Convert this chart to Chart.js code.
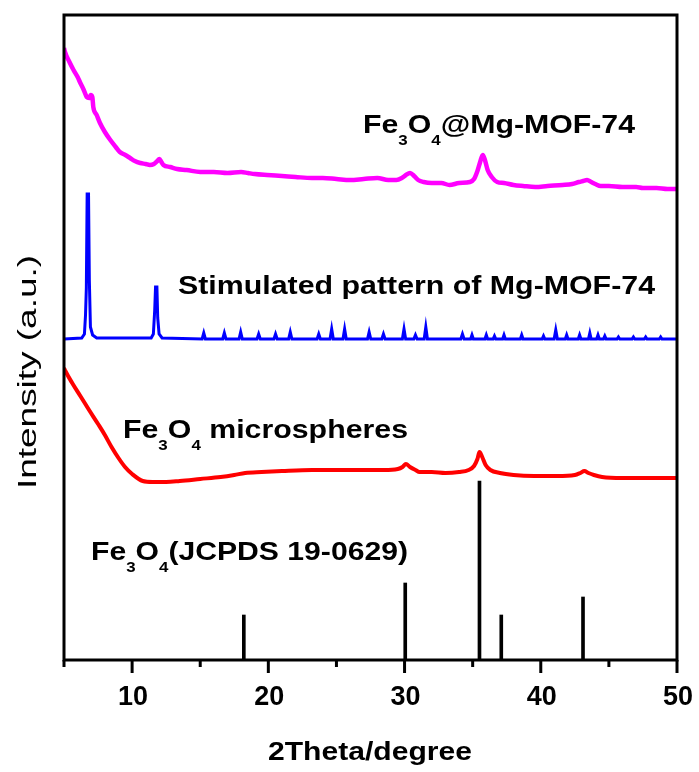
<!DOCTYPE html>
<html>
<head>
<meta charset="utf-8">
<script src="https://cdn.jsdelivr.net/npm/chart.js@4.4.1/dist/chart.umd.min.js"></script>
<style>
  body { margin: 0; background: #fff; }
  canvas { display: block; }
</style>
</head>
<body>
<canvas id="xrdChart" width="699" height="772"></canvas>
<script>
// XRD patterns - 2Theta in degrees, intensity in arbitrary units (stacked offsets)

// Fe3O4@Mg-MOF-74 (magenta)
const mofTheta = [5.0, 5.07, 5.4, 5.7, 6.0, 6.2, 6.45, 6.67, 6.85, 6.96, 7.08, 7.15, 7.4, 7.64, 8.0, 8.4, 8.8, 9.1, 9.5, 9.85,
    10.2, 10.6, 11.0, 11.3, 11.6, 11.85, 12.0, 12.15, 12.3, 12.8, 13.3, 14.0, 15.0, 16.0, 17.0, 18.0, 18.5, 19.0, 19.9, 21.0,
    22.0, 23.2, 24.0, 25.0, 26.0, 27.0, 28.0, 28.8, 29.4, 29.8, 30.1, 30.4, 30.7, 31.0, 31.4, 32.0, 32.7, 33.3, 34.0, 34.8,
    35.1, 35.35, 35.55, 35.74, 35.9, 36.1, 36.4, 36.8, 37.3, 38.0, 38.7, 39.6, 40.5, 41.6, 42.3, 42.8, 43.1, 43.4, 43.7, 44.0,
    44.4, 45.0, 46.0, 47.0, 47.5, 48.5, 49.3, 50.0];
const mofIntensity = [612, 608, 598, 590, 583, 577, 570, 563, 562, 565, 563, 553, 545, 537, 528, 520, 513, 508, 505, 502,
    499, 497, 496, 495, 496, 499, 501, 498, 495, 493, 491, 490, 488, 488, 487, 488, 487, 486, 485, 484,
    483, 482, 482, 481, 480, 481, 482, 480, 480, 482, 485, 487, 484, 480, 478, 477, 477, 475, 477, 478,
    481, 489, 498, 505, 500, 490, 483, 478, 477, 475, 474, 473, 474, 475, 476, 478, 479, 480, 478, 476,
    474, 474, 473, 473, 472, 472, 471, 471];

// Simulated Mg-MOF-74 pattern (blue)
const simTheta = [5.0, 6.3, 6.5, 6.58, 6.64, 6.7, 6.8, 6.86, 6.94, 7.1, 7.4,
    11.4, 11.56, 11.66, 11.72, 11.82, 11.88, 11.98, 12.2,
    15.14, 15.26, 15.38, 16.65, 16.77, 16.89, 17.85, 17.97, 18.09, 19.17, 19.29, 19.41,
    20.41, 20.53, 20.65, 21.49, 21.61, 21.73, 23.58, 23.7, 23.82, 24.53, 24.65, 24.77,
    25.48, 25.6, 25.72, 27.28, 27.4, 27.52, 28.33, 28.45, 28.57, 29.84, 29.96, 30.08,
    30.68, 30.8, 30.92, 31.44, 31.56, 31.68, 34.13, 34.25, 34.37, 34.85, 34.95, 35.05,
    35.9, 36.0, 36.1, 36.5, 36.6, 36.7, 37.2, 37.3, 37.4, 38.5, 38.6, 38.7,
    40.1, 40.2, 40.3, 40.98, 41.1, 41.22, 41.8, 41.9, 42.0, 42.75, 42.85, 42.95,
    43.5, 43.6, 43.7, 44.1, 44.2, 44.3, 44.6, 44.7, 44.8, 45.6, 45.7, 45.8,
    46.7, 46.8, 46.9, 47.6, 47.7, 47.8, 48.7, 48.8, 48.9, 50.0];
const simIntensity = [321, 322, 326, 345, 372, 466, 466, 380, 333, 325, 322,
    322, 326, 350, 373, 373, 342, 326, 322,
    321, 327, 321, 321, 327, 321, 321, 328, 321, 321, 326, 321,
    321, 326, 321, 321, 328, 321, 321, 326, 321, 321, 331, 321,
    321, 331, 321, 321, 328, 321, 321, 326, 321, 321, 331, 321,
    321, 325, 321, 321, 333, 321, 321, 326, 321, 321, 325, 321,
    321, 325, 321, 321, 324, 321, 321, 325, 321, 321, 325, 321,
    321, 324, 321, 321, 330, 321, 321, 325, 321, 321, 325, 321,
    321, 327, 321, 321, 325, 321, 321, 324, 321, 321, 323, 321,
    321, 323, 321, 321, 323, 321, 321, 323, 321, 321];

// Fe3O4 microspheres (red)
const fe3o4Theta = [5.0, 5.1, 5.6, 6.2, 6.84, 7.5, 8.0, 8.49, 9.0, 9.48, 10.0, 10.78, 11.5, 12.5, 13.5, 15.0, 16.5, 17.5,
    18.3, 19.5, 21.0, 23.2, 25.0, 27.0, 28.5, 29.5, 29.85, 30.1, 30.4, 30.8, 31.1, 32.0, 33.0, 34.0, 34.7, 35.1, 35.35,
    35.5, 35.7, 35.95, 36.3, 37.0, 38.0, 39.5, 41.2, 42.5, 42.9, 43.2, 43.5, 43.9, 44.5, 46.0, 48.0, 50.0];
const fe3o4Intensity = [292, 289, 277, 264, 250, 236, 225, 213, 202, 193, 186, 179, 178, 178, 179, 181, 183, 185,
    187, 188, 189, 190, 190, 190, 190, 191, 193, 196, 193, 190, 188, 188, 187, 188, 190, 194, 201,
    208, 203, 195, 190, 187, 185, 184, 184, 185, 187, 189, 187, 185, 183, 182, 182, 182];

// Fe3O4 reference lines, JCPDS 19-0629 (black sticks)
const refTheta = [18.2, 30.05, 35.5, 37.1, 43.1];
const refIntensity = [45, 77, 179, 45, 63];

const xTickStep = 5;
const xLabelStep = 10;

function toPoints(xs, ys) {
    return xs.map((x, i) => ({ x: x, y: ys[i] }));
}

const FONT = '"Liberation Sans", Arial, sans-serif';

// draw a label made of normal and subscript parts, stretched to a given width
function drawRich(ctx, parts, left, baseline, width, size) {
    const subSize = Math.round(size * 0.56);
    let natural = 0;
    parts.forEach(p => {
        ctx.font = 'bold ' + (p[1] ? subSize : size) + 'px ' + FONT;
        natural += ctx.measureText(p[0]).width;
    });
    ctx.save();
    ctx.translate(left, baseline);
    ctx.scale(width / natural, 1);
    ctx.textAlign = 'left';
    ctx.textBaseline = 'alphabetic';
    let x = 0;
    parts.forEach(p => {
        ctx.font = 'bold ' + (p[1] ? subSize : size) + 'px ' + FONT;
        ctx.fillText(p[0], x, p[1] ? 12 : 0);
        x += ctx.measureText(p[0]).width;
    });
    ctx.restore();
}

function drawStretched(ctx, text, cx, baseline, width, font, angle) {
    ctx.save();
    ctx.font = font;
    const natural = ctx.measureText(text).width;
    ctx.translate(cx, baseline);
    if (angle) ctx.rotate(angle);
    ctx.scale(width / natural, 1);
    ctx.textAlign = 'center';
    ctx.textBaseline = 'alphabetic';
    ctx.fillText(text, 0, 0);
    ctx.restore();
}

const framePlugin = {
    id: 'frame',
    afterDraw(chart) {
        const ctx = chart.ctx;
        const a = chart.chartArea;
        const xs = chart.scales.x;
        ctx.save();
        ctx.fillStyle = '#000';
        ctx.strokeStyle = '#000';
        ctx.lineWidth = 3;
        ctx.strokeRect(a.left, a.top, a.right - a.left, a.bottom - a.top);

        // ticks and labels
        xs.ticks.forEach(t => {
            const px = xs.getPixelForValue(t.value);
            const major = t.value % xLabelStep === 0;
            ctx.beginPath();
            ctx.moveTo(px, a.bottom);
            ctx.lineTo(px, a.bottom + (major ? 13 : 7));
            ctx.stroke();
            if (major) {
                drawStretched(ctx, String(t.value), px + 1, 705, 30, 'bold 27px ' + FONT);
            }
        });

        // axis titles
        drawStretched(ctx, '2Theta/degree', 370, 760, 204, 'bold 25px ' + FONT);
        drawStretched(ctx, 'Intensity (a.u.)', 36, 372, 234, '26px ' + FONT, -Math.PI / 2);

        // curve labels
        drawRich(ctx, [['Fe', 0], ['3', 1], ['O', 0], ['4', 1], ['@Mg-MOF-74', 0]], 363, 133, 272, 25);
        drawRich(ctx, [['Stimulated pattern of Mg-MOF-74', 0]], 178, 294, 477, 25);
        drawRich(ctx, [['Fe', 0], ['3', 1], ['O', 0], ['4', 1], [' microspheres', 0]], 123, 438, 285, 25);
        drawRich(ctx, [['Fe', 0], ['3', 1], ['O', 0], ['4', 1], ['(JCPDS 19-0629)', 0]], 91, 560, 317, 25);
        ctx.restore();
    }
};

new Chart(document.getElementById('xrdChart'), {
    type: 'line',
    data: {
        datasets: [
            {
                type: 'bar',
                label: 'JCPDS 19-0629',
                data: toPoints(refTheta, refIntensity),
                backgroundColor: '#000000',
                barThickness: 3
            },
            {
                label: 'Fe3O4 microspheres',
                data: toPoints(fe3o4Theta, fe3o4Intensity),
                borderColor: '#ff0000',
                borderWidth: 4,
                cubicInterpolationMode: 'monotone'
            },
            {
                label: 'Simulated Mg-MOF-74',
                data: toPoints(simTheta, simIntensity),
                borderColor: '#0000ff',
                borderWidth: 3
            },
            {
                label: 'Fe3O4@Mg-MOF-74',
                data: toPoints(mofTheta, mofIntensity),
                borderColor: '#ff00ff',
                borderWidth: 4.5,
                cubicInterpolationMode: 'monotone'
            }
        ]
    },
    options: {
        responsive: false,
        animation: false,
        devicePixelRatio: 1,
        layout: {
            padding: { left: 64, right: 22, top: 15, bottom: 0 }
        },
        elements: {
            point: { radius: 0 },
            line: { tension: 0 }
        },
        plugins: {
            legend: { display: false },
            tooltip: { enabled: false }
        },
        scales: {
            x: {
                type: 'linear',
                min: 5,
                max: 50,
                offset: false,
                grid: { display: false },
                border: { display: false },
                ticks: { display: false, stepSize: xTickStep },
                afterFit: function(scale) {
                    scale.height = 112;
                }
            },
            y: {
                display: false,
                min: 0,
                max: 645
            }
        }
    },
    plugins: [framePlugin]
});
</script>
</body>
</html>
